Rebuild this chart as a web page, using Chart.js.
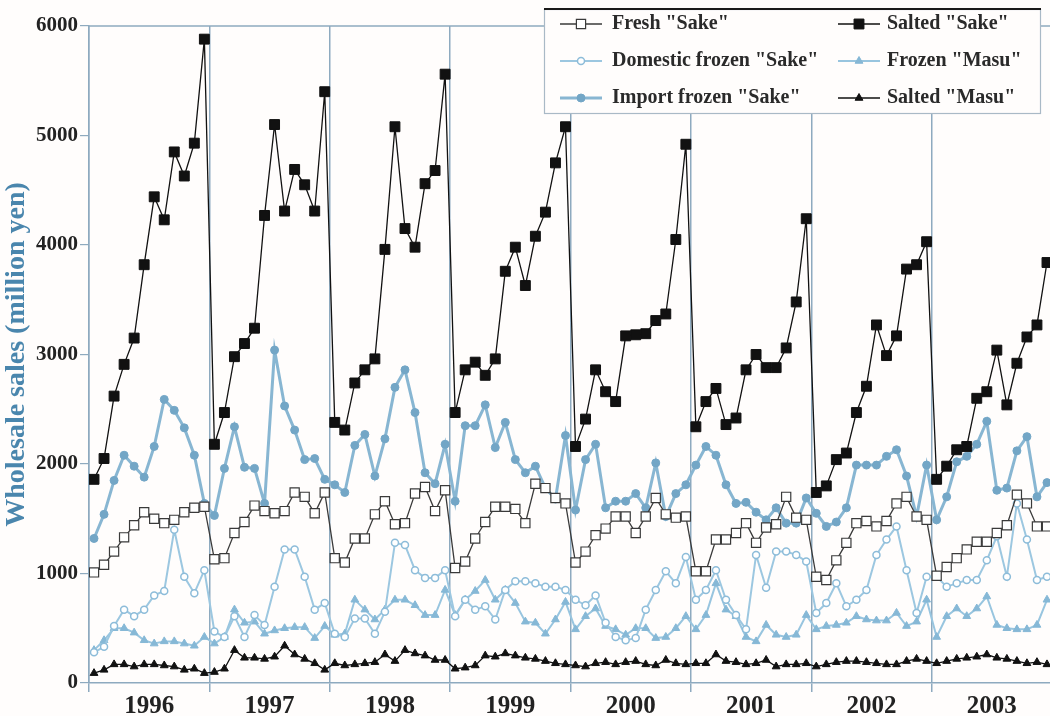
<!DOCTYPE html>
<html>
<head>
<meta charset="utf-8">
<script src="https://cdn.jsdelivr.net/npm/chart.js@4.4.1/dist/chart.umd.min.js"></script>
<style>
  html, body { margin: 0; padding: 0; background: #fffdfc; overflow: hidden; }
  #wrap { width: 1050px; height: 716px; overflow: hidden; }
</style>
</head>
<body>
<div id="wrap"><canvas id="myChart" width="1060" height="716"></canvas></div>
<script>

const years = ['1996','1997','1998','1999','2000','2001','2002','2003'];
const yTicks = [0, 1000, 2000, 3000, 4000, 5000, 6000];

// monthly values, Jan 1996 .. Dec 2003 (million yen)
const freshSake = [
1010,1080,1200,1330,1440,1560,1500,1460,1490,1560,1600,1610,
1130,1140,1370,1470,1620,1570,1550,1570,1740,1700,1550,1740,
1140,1100,1320,1320,1540,1660,1450,1460,1730,1790,1570,1760,
1050,1110,1320,1470,1610,1610,1590,1460,1820,1780,1690,1640,
1100,1200,1350,1410,1520,1520,1370,1520,1690,1540,1510,1520,
1020,1020,1310,1310,1370,1460,1280,1420,1450,1700,1510,1490,
970,940,1120,1280,1460,1480,1430,1480,1640,1700,1520,1490,
980,1060,1140,1220,1290,1290,1370,1440,1720,1640,1430,1430];

const saltedSake = [
1860,2050,2620,2910,3150,3820,4440,4230,4850,4630,4930,5880,
2180,2470,2980,3100,3240,4270,5100,4310,4690,4550,4310,5400,
2380,2310,2740,2860,2960,3960,5080,4150,3980,4560,4680,5560,
2470,2860,2930,2810,2960,3760,3980,3630,4080,4300,4750,5080,
2160,2410,2860,2660,2570,3170,3180,3190,3310,3370,4050,4920,
2340,2570,2690,2360,2420,2860,3000,2880,2880,3060,3480,4240,
1740,1800,2040,2100,2470,2710,3270,2990,3170,3780,3820,4030,
1860,1980,2130,2160,2600,2660,3040,2540,2920,3160,3270,3840];

const domesticFrozen = [
280,330,520,670,610,670,800,840,1400,970,820,1030,
470,420,610,420,620,530,880,1220,1220,970,670,730,
450,420,590,590,450,650,1280,1260,1030,960,960,1030,
610,760,670,700,580,850,930,930,910,880,880,850,
760,710,800,550,420,390,410,670,850,1020,910,1150,
760,850,1030,760,620,490,1170,870,1200,1200,1170,1110,
640,730,910,700,760,850,1170,1310,1430,1030,640,970,
970,880,910,940,940,1120,1340,970,1640,1310,940,970];

const frozenMasu = [
300,390,500,500,460,390,360,380,380,360,340,420,
360,420,670,550,560,450,480,500,510,510,410,520,
440,450,760,670,580,670,760,760,710,620,620,850,
620,760,840,940,760,850,730,560,550,450,580,740,
490,610,680,520,490,440,500,500,410,420,500,610,
490,620,910,670,610,420,380,530,440,420,440,620,
490,520,530,550,610,580,570,570,640,520,560,760,
420,610,680,610,680,790,530,500,490,490,530,760];

const importFrozen = [
1320,1540,1850,2080,1980,1880,2160,2590,2490,2330,2080,1640,
1530,1960,2340,1970,1960,1640,3040,2530,2310,2040,2050,1860,
1810,1740,2170,2270,1890,2230,2700,2860,2470,1920,1820,2180,
1660,2350,2350,2540,2150,2380,2040,1920,1980,1780,1680,2260,
1580,2040,2180,1600,1660,1660,1730,1600,2010,1520,1730,1810,
1990,2160,2080,1810,1640,1650,1560,1490,1600,1460,1460,1690,
1550,1430,1470,1600,1990,1990,1990,2070,2130,1890,1520,1990,
1490,1700,2020,2070,2180,2390,1760,1780,2120,2250,1700,1830];

const saltedMasu = [
90,120,170,170,150,170,170,160,150,120,130,90,
100,130,300,230,230,220,240,340,260,220,180,120,
180,160,170,180,190,260,200,300,270,250,210,210,
130,140,160,250,240,270,250,230,220,200,180,170,
160,150,180,190,170,190,200,170,160,210,180,170,
180,180,260,200,190,170,180,210,150,170,170,180,
150,170,190,200,200,190,180,170,170,200,220,200,
180,200,220,230,240,260,230,220,200,180,190,170];

const serif = 'Liberation Serif';
const frameColor = '#8eaabf';

function f_puntos(valores){
    return valores.map((v, i) => ({x: i, y: v}));
}

// x ticks: year boundaries (grid lines) and year middles (labels)
let xTicks = [];
for (let k = 0; k <= years.length; k++){
    xTicks.push(k*12 - 0.5);
    if (k < years.length) xTicks.push(k*12 + 5.5);
}
function f_esLimite(v){
    return ((v + 0.5) % 12) === 0;
}

const datasets = [
    { label: 'Fresh "Sake"', data: f_puntos(freshSake), order: 3,
      borderColor: '#3a3a3a', borderWidth: 1.3,
      pointStyle: 'rect', pointRadius: 6.5, pointBackgroundColor: '#ffffff',
      pointBorderColor: '#3a3a3a', pointBorderWidth: 1.2 },
    { label: 'Salted "Sake"', data: f_puntos(saltedSake), order: 1,
      borderColor: '#111111', borderWidth: 1.3,
      pointStyle: 'rect', pointRadius: 7, pointBackgroundColor: '#111111',
      pointBorderColor: '#111111', pointBorderWidth: 1 },
    { label: 'Domestic frozen "Sake"', data: f_puntos(domesticFrozen), order: 4,
      borderColor: '#9cc7e0', borderWidth: 2,
      pointStyle: 'circle', pointRadius: 3.5, pointBackgroundColor: '#ffffff',
      pointBorderColor: '#8dbcd9', pointBorderWidth: 1.5 },
    { label: 'Frozen "Masu"', data: f_puntos(frozenMasu), order: 5,
      borderColor: '#98c5df', borderWidth: 2,
      pointStyle: 'triangle', pointRadius: 4.5, pointBackgroundColor: '#86b8d6',
      pointBorderColor: '#86b8d6', pointBorderWidth: 1 },
    { label: 'Import frozen "Sake"', data: f_puntos(importFrozen), order: 6,
      borderColor: '#88b6d2', borderWidth: 3,
      pointStyle: 'circle', pointRadius: 4, pointBackgroundColor: '#73a6c6',
      pointBorderColor: '#73a6c6', pointBorderWidth: 1 },
    { label: 'Salted "Masu"', data: f_puntos(saltedMasu), order: 2,
      borderColor: '#111111', borderWidth: 1.3,
      pointStyle: 'triangle', pointRadius: 4.5, pointBackgroundColor: '#111111',
      pointBorderColor: '#111111', pointBorderWidth: 1 }
];

const marco = {
    id: 'marco',
    beforeDatasetsDraw(chart){
        const c = chart.ctx, a = chart.chartArea;
        c.save();
        c.strokeStyle = frameColor;
        c.lineWidth = 1.5;
        c.beginPath();
        c.moveTo(a.left, a.top);
        c.lineTo(a.right, a.top);
        c.stroke();
        c.restore();
    }
};

const leyenda = {
    id: 'leyenda',
    afterDraw(chart){
        const c = chart.ctx;
        c.save();
        c.fillStyle = '#fffdfc';
        c.fillRect(544, 9, 496, 104);
        c.strokeStyle = '#a9b9c6';
        c.lineWidth = 1.2;
        c.strokeRect(544.5, 9.5, 496, 104);
        c.strokeStyle = '#1a1a1a';
        c.lineWidth = 2;
        c.beginPath();
        c.moveTo(544, 9);
        c.lineTo(1041, 9);
        c.stroke();

        const cols = [{linea: 560, texto: 612}, {linea: 838, texto: 887}];
        const filas = [24, 61, 98];
        chart.data.datasets.forEach((ds, i) => {
            const col = cols[i % 2];
            const y = filas[Math.floor(i / 2)];
            c.strokeStyle = ds.borderColor;
            c.lineWidth = ds.borderWidth;
            c.beginPath();
            c.moveTo(col.linea, y);
            c.lineTo(col.linea + 42, y);
            c.stroke();
            c.fillStyle = ds.pointBackgroundColor;
            c.strokeStyle = ds.pointBorderColor;
            c.lineWidth = ds.pointBorderWidth;
            Chart.helpers.drawPoint(c, {pointStyle: ds.pointStyle, radius: ds.pointRadius, borderWidth: ds.pointBorderWidth, rotation: 0}, col.linea + 21, y);
            c.fillStyle = '#2a2a2a';
            c.font = 'bold 20px "' + serif + '"';
            c.textBaseline = 'middle';
            c.textAlign = 'left';
            c.fillText(ds.label, col.texto, y);
        });
        c.restore();
    }
};

let myChart = document.getElementById('myChart');
let grafico = new Chart(myChart, {
    type: 'line',
    data: { datasets },
    plugins: [marco, leyenda],
    options: {
        responsive: false,
        animation: false,
        devicePixelRatio: 1,
        layout: { padding: { top: 26, right: 4, left: 0, bottom: 0 } },
        plugins: { legend: { display: false }, tooltip: { enabled: false } },
        elements: { line: { tension: 0 } },
        scales: {
            x: {
                type: 'linear', min: -0.5, max: 95.5,
                afterBuildTicks: (scale) => { scale.ticks = xTicks.map(v => ({value: v})); },
                afterFit: (scale) => { scale.height = 33; },
                ticks: {
                    autoSkip: false, maxRotation: 0, padding: 0, color: '#222',
                    font: { family: serif, weight: 'bold', size: 25 },
                    callback: (v) => f_esLimite(v) ? '' : years[Math.round((v - 5.5) / 12)]
                },
                grid: {
                    lineWidth: 1.5, tickLength: 9,
                    color: (ctx) => (ctx.tick && f_esLimite(ctx.tick.value)) ? frameColor : 'rgba(0,0,0,0)',
                    tickColor: (ctx) => (ctx.tick && f_esLimite(ctx.tick.value)) ? frameColor : 'rgba(0,0,0,0)'
                },
                border: { color: frameColor, width: 1.5 }
            },
            y: {
                min: 0, max: 6000,
                afterFit: (scale) => { scale.width = 89; },
                afterBuildTicks: (scale) => { scale.ticks = yTicks.map(v => ({value: v})); },
                ticks: {
                    padding: 2, color: '#222',
                    font: { family: serif, weight: 'bold', size: 21 },
                    callback: (v) => String(v)
                },
                grid: { drawOnChartArea: false, tickLength: 9, color: frameColor, lineWidth: 1.2 },
                border: { color: frameColor, width: 1.5 },
                title: {
                    display: true, text: 'Wholesale sales (million yen)', color: '#4a86ad',
                    font: { family: serif, weight: 'bold', size: 28 },
                    padding: { top: 0, bottom: 2 }
                }
            }
        }
    }
});

</script>
</body>
</html>
